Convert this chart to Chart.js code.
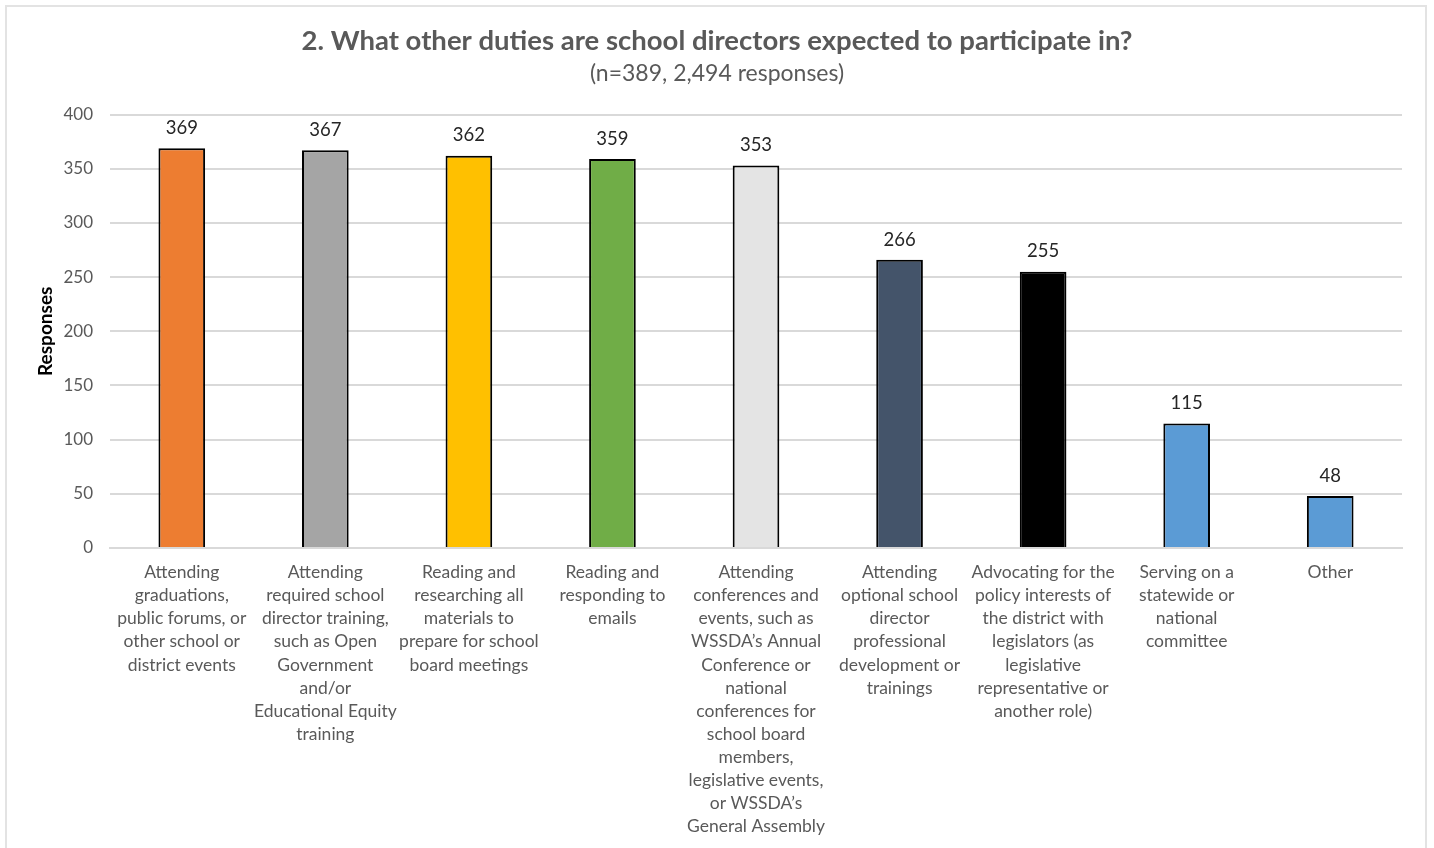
<!DOCTYPE html>
<html>
<head>
<meta charset="utf-8">
<script src="https://cdn.jsdelivr.net/npm/chart.js@4"></script>
<style>
  html, body { margin: 0; padding: 0; background: #fff; overflow: hidden; }
  #frame { position: absolute; left: 5px; top: 5px; width: 1418px; height: 900px; border: 2px solid #e3e3e3; }
  #wrap { position: absolute; left: 0; top: 0; width: 1434px; height: 848px; }
</style>
</head>
<body>
<div id="frame"></div>
<div id="wrap"><canvas id="dutiesChart" width="1434" height="848"></canvas></div>
<script>
const categories = [
  ["Attending", "graduations,", "public forums, or", "other school or", "district events"],
  ["Attending", "required school", "director training,", "such as Open", "Government", "and/or", "Educational Equity", "training"],
  ["Reading and", "researching all", "materials to", "prepare for school", "board meetings"],
  ["Reading and", "responding to", "emails"],
  ["Attending", "conferences and", "events, such as", "WSSDA’s Annual", "Conference or", "national", "conferences for", "school board", "members,", "legislative events,", "or WSSDA’s", "General Assembly"],
  ["Attending", "optional school", "director", "professional", "development or", "trainings"],
  ["Advocating for the", "policy interests of", "the district with", "legislators (as", "legislative", "representative or", "another role)"],
  ["Serving on a", "statewide or", "national", "committee"],
  ["Other"]
];
const responses = [369, 367, 362, 359, 353, 266, 255, 115, 48];
const barColors = ['#ED7D31', '#A5A5A5', '#FFC000', '#70AD47', '#E4E4E4', '#44546A', '#000000', '#5B9BD5', '#5B9BD5'];
const yTicks = [0, 50, 100, 150, 200, 250, 300, 350, 400];

const FONT = "Lato, 'Open Sans', sans-serif";

// value labels above each bar
const valueLabels = {
  id: 'valueLabels',
  afterDatasetsDraw(chart) {
    const ctx = chart.ctx;
    const meta = chart.getDatasetMeta(0);
    ctx.save();
    ctx.font = '18.5px ' + FONT;
    ctx.fillStyle = '#262626';
    ctx.textAlign = 'center';
    ctx.textBaseline = 'bottom';
    meta.data.forEach((bar, i) => {
      ctx.fillText(String(responses[i]), bar.x, bar.y - 11);
    });
    ctx.restore();
  }
};

window.addEventListener("DOMContentLoaded", () => {
  const ctx = document.getElementById('dutiesChart').getContext('2d');
  new Chart(ctx, {
    type: 'bar',
    data: {
      labels: categories,
      datasets: [{
        label: 'Responses',
        data: responses,
        backgroundColor: barColors,
        borderColor: '#000000',
        borderWidth: 2,
        barPercentage: 0.325,
        categoryPercentage: 1
      }]
    },
    options: {
      responsive: false,
      animation: false,
      layout: { padding: { left: 32, right: 32, top: 0, bottom: 0 } },
      plugins: {
        legend: { display: false },
        tooltip: { enabled: false },
        title: {
          display: true,
          text: '2. What other duties are school directors expected to participate in?',
          color: '#595959',
          font: { family: FONT, size: 27.5, weight: 'bold' },
          padding: { top: 25, bottom: 0 }
        },
        subtitle: {
          display: true,
          text: '(n=389, 2,494 responses)',
          color: '#595959',
          font: { family: FONT, size: 23 },
          padding: { top: 2, bottom: 27 }
        }
      },
      scales: {
        x: {
          grid: { display: false, drawTicks: false },
          border: { display: true, color: '#D9D9D9', width: 2 },
          ticks: {
            color: '#595959',
            font: { family: FONT, size: 17.5, lineHeight: 1.32 },
            padding: 13,
            autoSkip: false,
            maxRotation: 0,
            minRotation: 0
          },
          afterFit(scale) { scale.height = 300; }
        },
        y: {
          min: 0,
          max: 400,
          afterBuildTicks(scale) { scale.ticks = yTicks.map(v => ({ value: v })); },
          grid: { color: '#D9D9D9', lineWidth: 2, drawTicks: false },
          border: { display: false },
          ticks: {
            color: '#595959',
            font: { family: FONT, size: 17 },
            padding: 17
          },
          title: {
            display: true,
            text: 'Responses',
            color: '#000000',
            font: { family: FONT, size: 19, weight: 'bold' },
            padding: { top: 2, bottom: 0 }
          },
          afterFit(scale) { scale.width = 78; }
        }
      }
    },
    plugins: [valueLabels]
  });
});
</script>
</body>
</html>
